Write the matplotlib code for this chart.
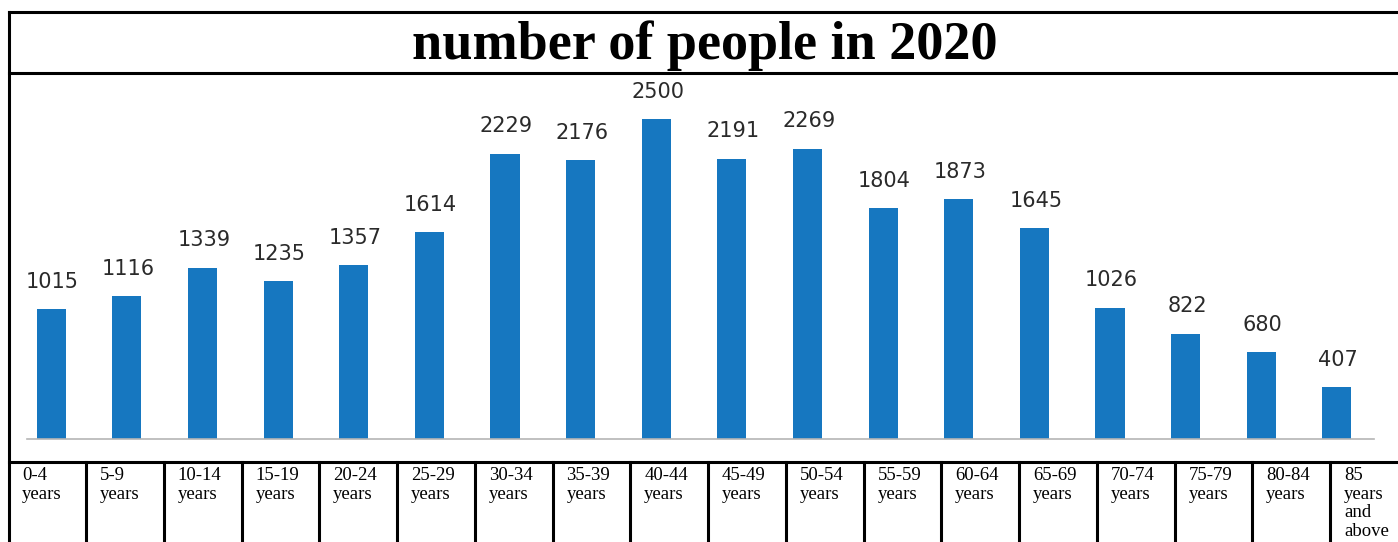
import numpy as np
import matplotlib.pyplot as plt
from matplotlib.lines import Line2D

# population by age band, 2020
age_groups = ["0-4\nyears", "5-9\nyears", "10-14\nyears", "15-19\nyears",
              "20-24\nyears", "25-29\nyears", "30-34\nyears", "35-39\nyears",
              "40-44\nyears", "45-49\nyears", "50-54\nyears", "55-59\nyears",
              "60-64\nyears", "65-69\nyears", "70-74\nyears", "75-79\nyears",
              "80-84\nyears", "85\nyears\nand\nabove"]
people = [1015, 1116, 1339, 1235, 1357, 1614, 2229, 2176, 2500,
          2191, 2269, 1804, 1873, 1645, 1026, 822, 680, 407]

W, H = 1398, 542
fig = plt.figure(figsize=(W / 100, H / 100), dpi=100)

# bar chart area (pixel positions converted to figure fractions)
left, right, bottom, top = 27, 1374, 439, 75
ax = fig.add_axes([left / W, 1 - bottom / H, (right - left) / W, (bottom - top) / H])
x = np.arange(len(people))
ax.bar(x, people, width=0.385, color="#1677c0")
ax.set_xlim(-0.32, 17.49)
ax.set_ylim(0, 2844)
for xi, v in zip(x, people):
    ax.annotate(str(v), (xi, v), xytext=(1, 12.5), textcoords="offset points",
                ha="center", va="bottom", fontsize=15, color="#2a2a2a",
                family="DejaVu Sans")
for s in ["top", "right", "left"]:
    ax.spines[s].set_visible(False)
ax.spines["bottom"].set_color("#b5b5b5")
ax.spines["bottom"].set_linewidth(1.2)
ax.set_xticks([])
ax.set_yticks([])
ax.patch.set_alpha(0)

# frame, title and the label table drawn in pixel space
ov = fig.add_axes([0, 0, 1, 1], zorder=-1)
ov.set_xlim(0, W)
ov.set_ylim(H, 0)
ov.axis("off")

lw = 2.2
ov.add_line(Line2D([9, W], [12, 12], color="black", lw=lw))
ov.add_line(Line2D([9, W], [73, 73], color="black", lw=lw))
ov.add_line(Line2D([9, W], [462, 462], color="black", lw=lw))
ov.add_line(Line2D([9, 9], [12, H], color="black", lw=lw))

ov.text(705, 46, "number of people in 2020", ha="center", va="center",
        fontsize=39, fontweight="bold", family="Liberation Serif")

col_w = 77.75
for i, lab in enumerate(age_groups):
    x0 = 8.25 + col_w * i
    if i > 0:
        ov.add_line(Line2D([x0, x0], [462, H], color="black", lw=lw))
    ov.text(x0 + 14, 467, lab, ha="left", va="top", fontsize=13.5,
            family="Liberation Serif", linespacing=1.12)

fig.savefig("out.png", dpi=100)
